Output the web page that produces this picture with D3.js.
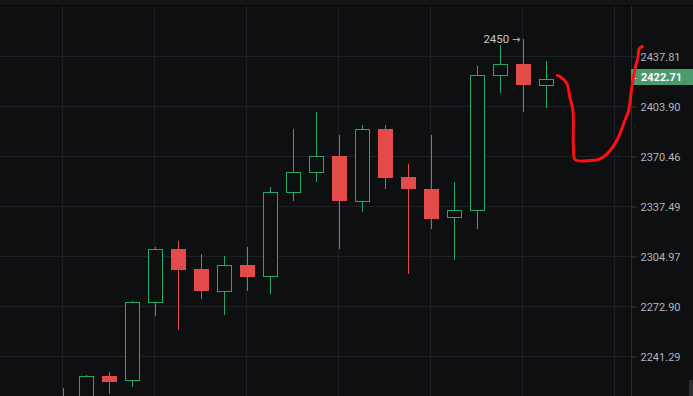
<!DOCTYPE html>
<html>
<head>
<meta charset="utf-8">
<script src="https://cdn.jsdelivr.net/npm/d3@7"></script>
<style>
  html, body { margin: 0; padding: 0; background: #0e0f11; }
  svg { display: block; }
</style>
</head>
<body>
<div id="chart"></div>
<script>
// candle data (one entry per bar, left to right)
var opens  = [2207.6, 2213.8, 2228.8, 2226.3, 2275.5, 2309.5, 2296.6, 2283.1, 2299.2, 2292.1, 2347.3,
              2360.5, 2371.1, 2341.4, 2388.5, 2356.6, 2349.3, 2330.3, 2335.5, 2424.9, 2432.4, 2418.1];
var highs  = [2221.3, 2229.4, 2231.3, 2276.7, 2311.4, 2315.3, 2306.9, 2305.0, 2311.4, 2350.0, 2389.1,
              2399.9, 2385.1, 2391.8, 2391.8, 2365.2, 2385.1, 2353.9, 2431.0, 2446.0, 2450.0, 2434.4];
var lows   = [2195.3, 2210.0, 2217.6, 2222.5, 2266.6, 2257.7, 2277.4, 2267.8, 2282.5, 2281.2, 2341.4,
              2353.9, 2310.1, 2333.6, 2349.3, 2293.4, 2323.1, 2302.4, 2323.1, 2412.7, 2399.9, 2403.2];
var closes = [2215.1, 2228.8, 2225.6, 2275.5, 2309.5, 2296.0, 2282.5, 2299.2, 2291.5, 2347.3, 2360.5,
              2371.1, 2340.8, 2388.5, 2355.9, 2348.7, 2329.6, 2335.5, 2424.9, 2432.4, 2418.1, 2422.71];

var priceTicks = [2437.81, 2403.90, 2370.46, 2337.49, 2304.97, 2272.90, 2241.29];
var gridIdx = [0, 4, 8, 12, 16, 20, 24];
var lastPrice = 2422.71;
var highMark = { idx: 20, price: 2450, label: "2450" };

// hand drawn red sketch (bar index, price)
var sketchIdx   = [21.47, 21.67, 21.89, 22.03, 22.15, 22.17, 22.25, 22.76, 23.33, 23.77, 24.13, 24.35, 24.57, 24.71, 24.86, 24.98, 25.03, 25.17];
var sketchPrice = [2424.9, 2423.3, 2419.2, 2409.1, 2401.2, 2376.6, 2368.3, 2367.6, 2368.9, 2374.5, 2383.3, 2392.3, 2401.2, 2416.9, 2430.5, 2437.3, 2443.1, 2444.65];

var width = 693, height = 396;
var paneRight = 631.5;
var green = "#22ab68", red = "#e24b49", bg = "#0e0f11", gridColor = "#1f2024";
var font = "Roboto, 'Noto Sans', sans-serif";

var svg = d3.select("#chart")
  .append("svg")
    .attr("width", width)
    .attr("height", height);

svg.append("rect").attr("width", width).attr("height", height).attr("fill", bg);
svg.append("rect").attr("width", width).attr("height", 5).attr("fill", "#131416");
svg.append("line").attr("x1", 0).attr("x2", width).attr("y1", 5.5).attr("y2", 5.5).attr("stroke", "#030303");

var x = d3.scaleLinear().domain([0, 1]).range([63.5, 86.5]);
var y = d3.scaleLog().domain([2241.29, 2437.81]).range([356.5, 56.5]);

svg.append("clipPath").attr("id", "pane")
  .append("rect").attr("x", 0).attr("y", 6).attr("width", 631).attr("height", height - 6);

var pane = svg.append("g").attr("clip-path", "url(#pane)");

// grid
pane.selectAll(".hgrid").data(priceTicks).enter().append("line")
  .attr("x1", 0).attr("x2", paneRight)
  .attr("y1", function(d) { return Math.round(y(d) - 0.5) + 0.5; })
  .attr("y2", function(d) { return Math.round(y(d) - 0.5) + 0.5; })
  .attr("stroke", gridColor);
pane.selectAll(".vgrid").data(gridIdx).enter().append("line")
  .attr("x1", function(d) { return x(d) - 1; })
  .attr("x2", function(d) { return x(d) - 1; })
  .attr("y1", 6).attr("y2", height)
  .attr("stroke", gridColor);

// candles
var bars = d3.range(opens.length);
var g = pane.selectAll(".candle").data(bars).enter().append("g");

g.append("line")
  .attr("x1", function(i) { return x(i); })
  .attr("x2", function(i) { return x(i); })
  .attr("y1", function(i) { return Math.round(y(highs[i])); })
  .attr("y2", function(i) { return Math.round(y(lows[i])); })
  .attr("stroke", function(i) { return closes[i] >= opens[i] ? green : red; });

g.append("rect")
  .attr("x", function(i) { return closes[i] >= opens[i] ? x(i) - 7 : x(i) - 7.5; })
  .attr("y", function(i) {
    var t = Math.round(y(Math.max(opens[i], closes[i])));
    return closes[i] >= opens[i] ? t + 0.5 : t;
  })
  .attr("width", function(i) { return closes[i] >= opens[i] ? 14 : 15; })
  .attr("height", function(i) {
    var t = Math.round(y(Math.max(opens[i], closes[i])));
    var b = Math.round(y(Math.min(opens[i], closes[i])));
    return Math.max(1, b - t);
  })
  .attr("fill", function(i) { return closes[i] >= opens[i] ? bg : red; })
  .attr("stroke", function(i) { return closes[i] >= opens[i] ? green : "none"; })
  .attr("stroke-width", 1);

// high marker: "2450 ->"
var hm = svg.append("text")
  .attr("x", x(highMark.idx) - 3)
  .attr("y", y(highMark.price))
  .attr("dy", "0.35em")
  .attr("text-anchor", "end")
  .attr("fill", "#c3c6cc")
  .style("font-family", font)
  .style("font-size", "11.5px");
hm.append("tspan").text(highMark.label + " ");
hm.append("tspan").style("font-family", "'DejaVu Sans', sans-serif").style("font-size", "10px").text("\u2192");

// price axis
svg.append("line")
  .attr("x1", paneRight).attr("x2", paneRight)
  .attr("y1", 6).attr("y2", height)
  .attr("stroke", "#2a2b2f");

var axis = svg.append("g")
  .attr("transform", "translate(" + paneRight + ",0)")
  .call(d3.axisRight(y).tickValues(priceTicks).tickFormat(d3.format(".2f")).tickSize(5).tickPadding(4));
axis.select(".domain").remove();
axis.selectAll(".tick line").attr("stroke", "#3a3c41");
axis.selectAll(".tick text")
  .attr("fill", "#b2b5bd")
  .style("font-family", font)
  .style("font-size", "11px");

// last price label
var ly = y(lastPrice);
svg.append("rect")
  .attr("x", 631).attr("y", Math.round(ly) - 10)
  .attr("width", width - 631).attr("height", 16)
  .attr("fill", "#4b9a6e");
svg.append("line")
  .attr("x1", 632).attr("x2", 636)
  .attr("y1", Math.round(ly) - 0.5).attr("y2", Math.round(ly) - 0.5)
  .attr("stroke", "#ffffff");
svg.append("text")
  .attr("x", 641)
  .attr("y", Math.round(ly) - 2)
  .attr("dy", "0.35em")
  .attr("fill", "#ffffff")
  .style("font-family", font)
  .style("font-size", "11px")
  .style("font-weight", "bold")
  .text(d3.format(".2f")(lastPrice));

// scrollbar nub
svg.append("rect").attr("x", 689).attr("y", 380).attr("width", 4).attr("height", 16).attr("fill", "#2c2e33");

// red sketch on top
var sketch = d3.line()
  .x(function(d) { return x(sketchIdx[d]); })
  .y(function(d) { return y(sketchPrice[d]); })
  .curve(d3.curveCatmullRom);
svg.append("path")
  .attr("d", sketch(d3.range(sketchIdx.length)))
  .attr("fill", "none")
  .attr("stroke", "#ff1010")
  .attr("stroke-width", 3)
  .attr("stroke-linecap", "round")
  .attr("stroke-linejoin", "round");
</script>
</body>
</html>
